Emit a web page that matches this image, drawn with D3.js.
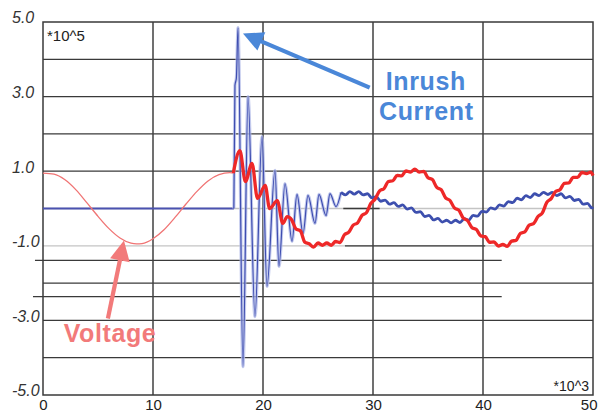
<!DOCTYPE html>
<html><head><meta charset="utf-8">
<script src="https://cdn.jsdelivr.net/npm/d3@7"></script>
<style>
html,body{margin:0;padding:0;background:#fff;}
svg{display:block;}
text{font-family:"Liberation Sans", Arial, Helvetica, sans-serif;}
</style></head><body>
<svg id="chart" width="598" height="413"></svg>
<script>
// ---------- data (x in *10^3, y in *10^5) ----------
const xTickValues = [0, 10, 20, 30, 40, 50];
const xTickLabels = ["0", "10", "20", "30", "40", "50"];
const yTickValues = [5, 3, 1, -1, -3, -5];
const yTickLabels = ["5.0", "3.0", "1.0", "-1.0", "-3.0", "-5.0"];
const gridXValues = [10, 20, 30, 40];
const gridYValues = [4, 3, 2, 1, -2, -3, -4];
const lightGridYValues = [0, -1];

// voltage before switching (thin)
const voltageX = [0, 1, 2, 3, 4, 5, 6, 7, 8, 8.5, 9, 10, 11, 12, 13, 14, 15, 16, 17, 17.3];
const voltageY = [0.95, 0.92, 0.77, 0.5, 0.15, -0.21, -0.54, -0.79, -0.93, -0.95, -0.94, -0.81, -0.57, -0.24, 0.12, 0.46, 0.74, 0.91, 0.96, 0.95];

// voltage after switching (thick, rippled)
const voltage2X = [17.3, 17.9, 18.4, 19.0, 19.5, 20.2, 20.6, 21.3, 21.8, 22.2, 22.6, 23.0, 23.4, 23.8,
  24.2, 24.6, 25.0, 25.4, 25.8, 26.2, 26.6, 27.0, 27.4, 27.8, 28.2, 28.6, 29.0, 29.4, 29.8, 30.2, 30.6,
  31.0, 31.4, 31.8, 32.2, 32.6, 33.0, 33.4, 33.8, 34.2, 34.6, 35.0, 35.4, 35.8, 36.2, 36.6, 37.0, 37.4,
  37.8, 38.2, 38.6, 39.0, 39.4, 39.8, 40.2, 40.6, 41.0, 41.4, 41.8, 42.2, 42.6, 43.0, 43.4, 43.8, 44.2,
  44.6, 45.0, 45.4, 45.8, 46.2, 46.6, 47.0, 47.4, 47.8, 48.2, 48.6, 49.0, 49.4, 49.8, 50.0];
const voltage2Y = [0.95, 1.55, 0.72, 1.21, 0.27, 0.62, 0.0, 0.21, -0.4, -0.22, -0.3, -0.55, -0.6, -0.9,
  -0.945, -1.035, -0.925, -0.985, -0.925, -0.985, -0.885, -0.915, -0.705, -0.635, -0.445, -0.385, -0.185, -0.115, 0.135, 0.255, 0.475,
  0.535, 0.725, 0.745, 0.885, 0.875, 1.005, 0.975, 1.055, 0.975, 0.995, 0.825, 0.775, 0.565, 0.505, 0.285, 0.215, 0.015,
  -0.045, -0.255, -0.325, -0.515, -0.565, -0.735, -0.755, -0.905, -0.895, -1.005, -0.965, -1.015, -0.875, -0.855, -0.665, -0.625, -0.445,
  -0.405, -0.215, -0.115, 0.165, 0.265, 0.455, 0.505, 0.675, 0.685, 0.835, 0.835, 0.965, 0.935, 0.975, 0.88];

// current before switching
const currentFlatX = [0, 17.35];
const currentFlatY = [0, 0];

// inrush transient (thin)
const inrushX = [17.35, 17.45, 17.58, 17.73, 18.18, 18.64, 19.27, 19.91, 20.36, 21.09, 21.45, 22.0, 22.64,
  23.09, 23.64, 24.09, 24.73, 25.09, 25.73, 26.09, 26.64, 27.09];
const inrushY = [0, 3.3, 3.5, 4.85, -4.24, 3.0, -2.9, 1.93, -2.09, 1.02, -1.55, 0.67, -0.88,
  0.38, -0.67, 0.35, -0.4, 0.38, -0.19, 0.4, 0.05, 0.43];

// current steady state (thick, rippled)
const currentTailX = [27.09, 27.5, 27.9, 28.3, 28.7, 29.1, 29.5, 29.9, 30.3, 30.7, 31.1, 31.5, 31.9, 32.3,
  32.7, 33.1, 33.5, 33.9, 34.3, 34.7, 35.1, 35.5, 35.9, 36.3, 36.7, 37.1, 37.5, 37.9, 38.3, 38.7, 39.1,
  39.5, 39.9, 40.3, 40.7, 41.1, 41.5, 41.9, 42.3, 42.7, 43.1, 43.5, 43.9, 44.3, 44.7, 45.1, 45.5, 45.9,
  46.3, 46.7, 47.1, 47.5, 47.9, 48.3, 48.7, 49.1, 49.5, 49.9, 50.0];
const currentTailY = [0.43, 0.365, 0.455, 0.385, 0.455, 0.365, 0.395, 0.285, 0.315, 0.195, 0.225, 0.115, 0.155, 0.055,
  0.095, -0.015, 0.015, -0.105, -0.085, -0.215, -0.185, -0.305, -0.265, -0.365, -0.315, -0.385, -0.315, -0.375, -0.275, -0.315, -0.185,
  -0.205, -0.075, -0.095, 0.015, -0.015, 0.095, 0.065, 0.185, 0.155, 0.275, 0.235, 0.345, 0.295, 0.395, 0.345, 0.435, 0.375,
  0.435, 0.345, 0.395, 0.285, 0.325, 0.215, 0.245, 0.115, 0.135, 0.015, 0.04];

// stray rules of the original figure: [x1, x2, y]
const strayRules = [[27.3, 30.6, 0], [27.45, 40.2, -1], [-0.73, 41.7, -1.39], [-0.91, 41.7, -2.36]];

// annotations
const inrushLabel = ["Inrush", "Current"];
const voltageLabel = "Voltage";

// ---------- drawing ----------
const svg = d3.select("#chart");
const x = d3.scaleLinear().domain([0, 50]).range([43, 593]);
const y = d3.scaleLinear().domain([-5, 5]).range([395, 22]);

const gridColor = "#3a3a3a";
const g = svg.append("g");

g.selectAll(".lg").data(lightGridYValues).join("line")
  .attr("x1", x(0)).attr("x2", x(50)).attr("y1", d => y(d)).attr("y2", d => y(d))
  .attr("stroke", "#c4c4c4").attr("stroke-width", 1.3);

g.selectAll(".hg").data(gridYValues).join("line")
  .attr("x1", x(0)).attr("x2", x(50)).attr("y1", d => y(d)).attr("y2", d => y(d))
  .attr("stroke", gridColor).attr("stroke-width", 1.3);

g.selectAll(".sr").data(strayRules).join("line")
  .attr("x1", d => x(d[0])).attr("x2", d => x(d[1])).attr("y1", d => y(d[2])).attr("y2", d => y(d[2]))
  .attr("stroke", gridColor).attr("stroke-width", 1.3);

g.selectAll(".vg").data(gridXValues).join("line")
  .attr("x1", d => x(d)).attr("x2", d => x(d)).attr("y1", y(5)).attr("y2", y(-5))
  .attr("stroke", "#404040").attr("stroke-width", 1.5);

g.append("rect").attr("x", x(0)).attr("y", y(5)).attr("width", x(50) - x(0)).attr("height", y(-5) - y(5))
  .attr("fill", "none").attr("stroke", gridColor).attr("stroke-width", 1.5);

const yAxis = d3.axisLeft(y).tickValues(yTickValues).tickFormat((d, i) => yTickLabels[i]).tickSize(0);
const ya = svg.append("g").call(yAxis);
ya.select(".domain").remove();
ya.selectAll("text").attr("x", 12).attr("dy", "0.05em").attr("text-anchor", "start")
  .style("font-style", "italic").style("font-size", "16px").attr("fill", "#333");

const xAxis = d3.axisBottom(x).tickValues(xTickValues).tickFormat((d, i) => xTickLabels[i]).tickSize(0);
const xa = svg.append("g").attr("transform", `translate(0,${y(-5)})`).call(xAxis);
xa.select(".domain").remove();
xa.selectAll("text").attr("y", 14.5).attr("dy", 0).style("font-size", "15px").attr("fill", "#222");
// keep the last label inside the window
xa.selectAll(".tick").filter(d => d === 50).select("text").attr("text-anchor", "end").attr("x", 4);

svg.append("text").attr("x", 47).attr("y", 41).text("*10^5").style("font-size", "15px").attr("fill", "#222");
svg.append("text").attr("x", 589).attr("y", 391).attr("text-anchor", "end").text("*10^3")
  .style("font-size", "14px").attr("fill", "#222");

const line = d3.line().x(d => x(d[0])).y(d => y(d[1])).curve(d3.curveMonotoneX);
const zip = (a, b) => a.map((v, i) => [v, b[i]]);

svg.append("path").attr("d", line(zip(currentFlatX, currentFlatY)))
  .attr("fill", "none").attr("stroke", "#4b52b0").attr("stroke-width", 1.8);
svg.append("path").attr("d", line(zip(inrushX, inrushY)))
  .attr("fill", "none").attr("stroke", "#b4bde9").attr("stroke-width", 3.2).attr("stroke-opacity", 0.8);
svg.append("path").attr("d", line(zip(inrushX, inrushY)))
  .attr("fill", "none").attr("stroke", "#3e4db0").attr("stroke-width", 1.2);
svg.append("path").attr("d", line(zip(currentTailX, currentTailY)))
  .attr("fill", "none").attr("stroke", "#3d4fae").attr("stroke-width", 2.8).attr("stroke-linejoin", "round");

svg.append("path").attr("d", line(zip(voltageX, voltageY)))
  .attr("fill", "none").attr("stroke", "#f07474").attr("stroke-width", 1.3);
svg.append("path").attr("d", line(zip(voltage2X, voltage2Y)))
  .attr("fill", "none").attr("stroke", "#ee2828").attr("stroke-width", 3.3).attr("stroke-linejoin", "round");

function arrow(tail, tip, color) {
  const t0 = [x(tail[0]), y(tail[1])], t1 = [x(tip[0]), y(tip[1])];
  const dx = t1[0] - t0[0], dy = t1[1] - t0[1], L = Math.hypot(dx, dy);
  const ux = dx / L, uy = dy / L, hl = 20, hw = 10;
  const bx = t1[0] - ux * hl, by = t1[1] - uy * hl;
  svg.append("line").attr("x1", t0[0]).attr("y1", t0[1]).attr("x2", bx + ux * 2).attr("y2", by + uy * 2)
    .attr("stroke", color).attr("stroke-width", 4.2);
  svg.append("path").attr("d", `M${t1[0]},${t1[1]}L${bx - uy * hw},${by + ux * hw}L${bx + uy * hw},${by - ux * hw}Z`)
    .attr("fill", color);
}
const blueNote = "#4a87d8", redNote = "#f27a7a";
arrow([29.7, 3.24], [18.18, 4.69], blueNote);
arrow([5.9, -2.95], [7.36, -0.86], redNote);

svg.append("text").attr("x", x(34.8)).attr("y", y(3.19)).attr("text-anchor", "middle").text(inrushLabel[0])
  .style("font-size", "25px").style("font-weight", "bold").style("letter-spacing", "0.6px").attr("fill", blueNote);
svg.append("text").attr("x", x(34.85)).attr("y", y(2.36)).attr("text-anchor", "middle").text(inrushLabel[1])
  .style("font-size", "25px").style("font-weight", "bold").style("letter-spacing", "0.6px").attr("fill", blueNote);
svg.append("text").attr("x", x(6.09)).attr("y", y(-3.57)).attr("text-anchor", "middle").text(voltageLabel)
  .style("font-size", "25px").style("font-weight", "bold").style("letter-spacing", "0.6px").attr("fill", redNote);
</script>
</body></html>
